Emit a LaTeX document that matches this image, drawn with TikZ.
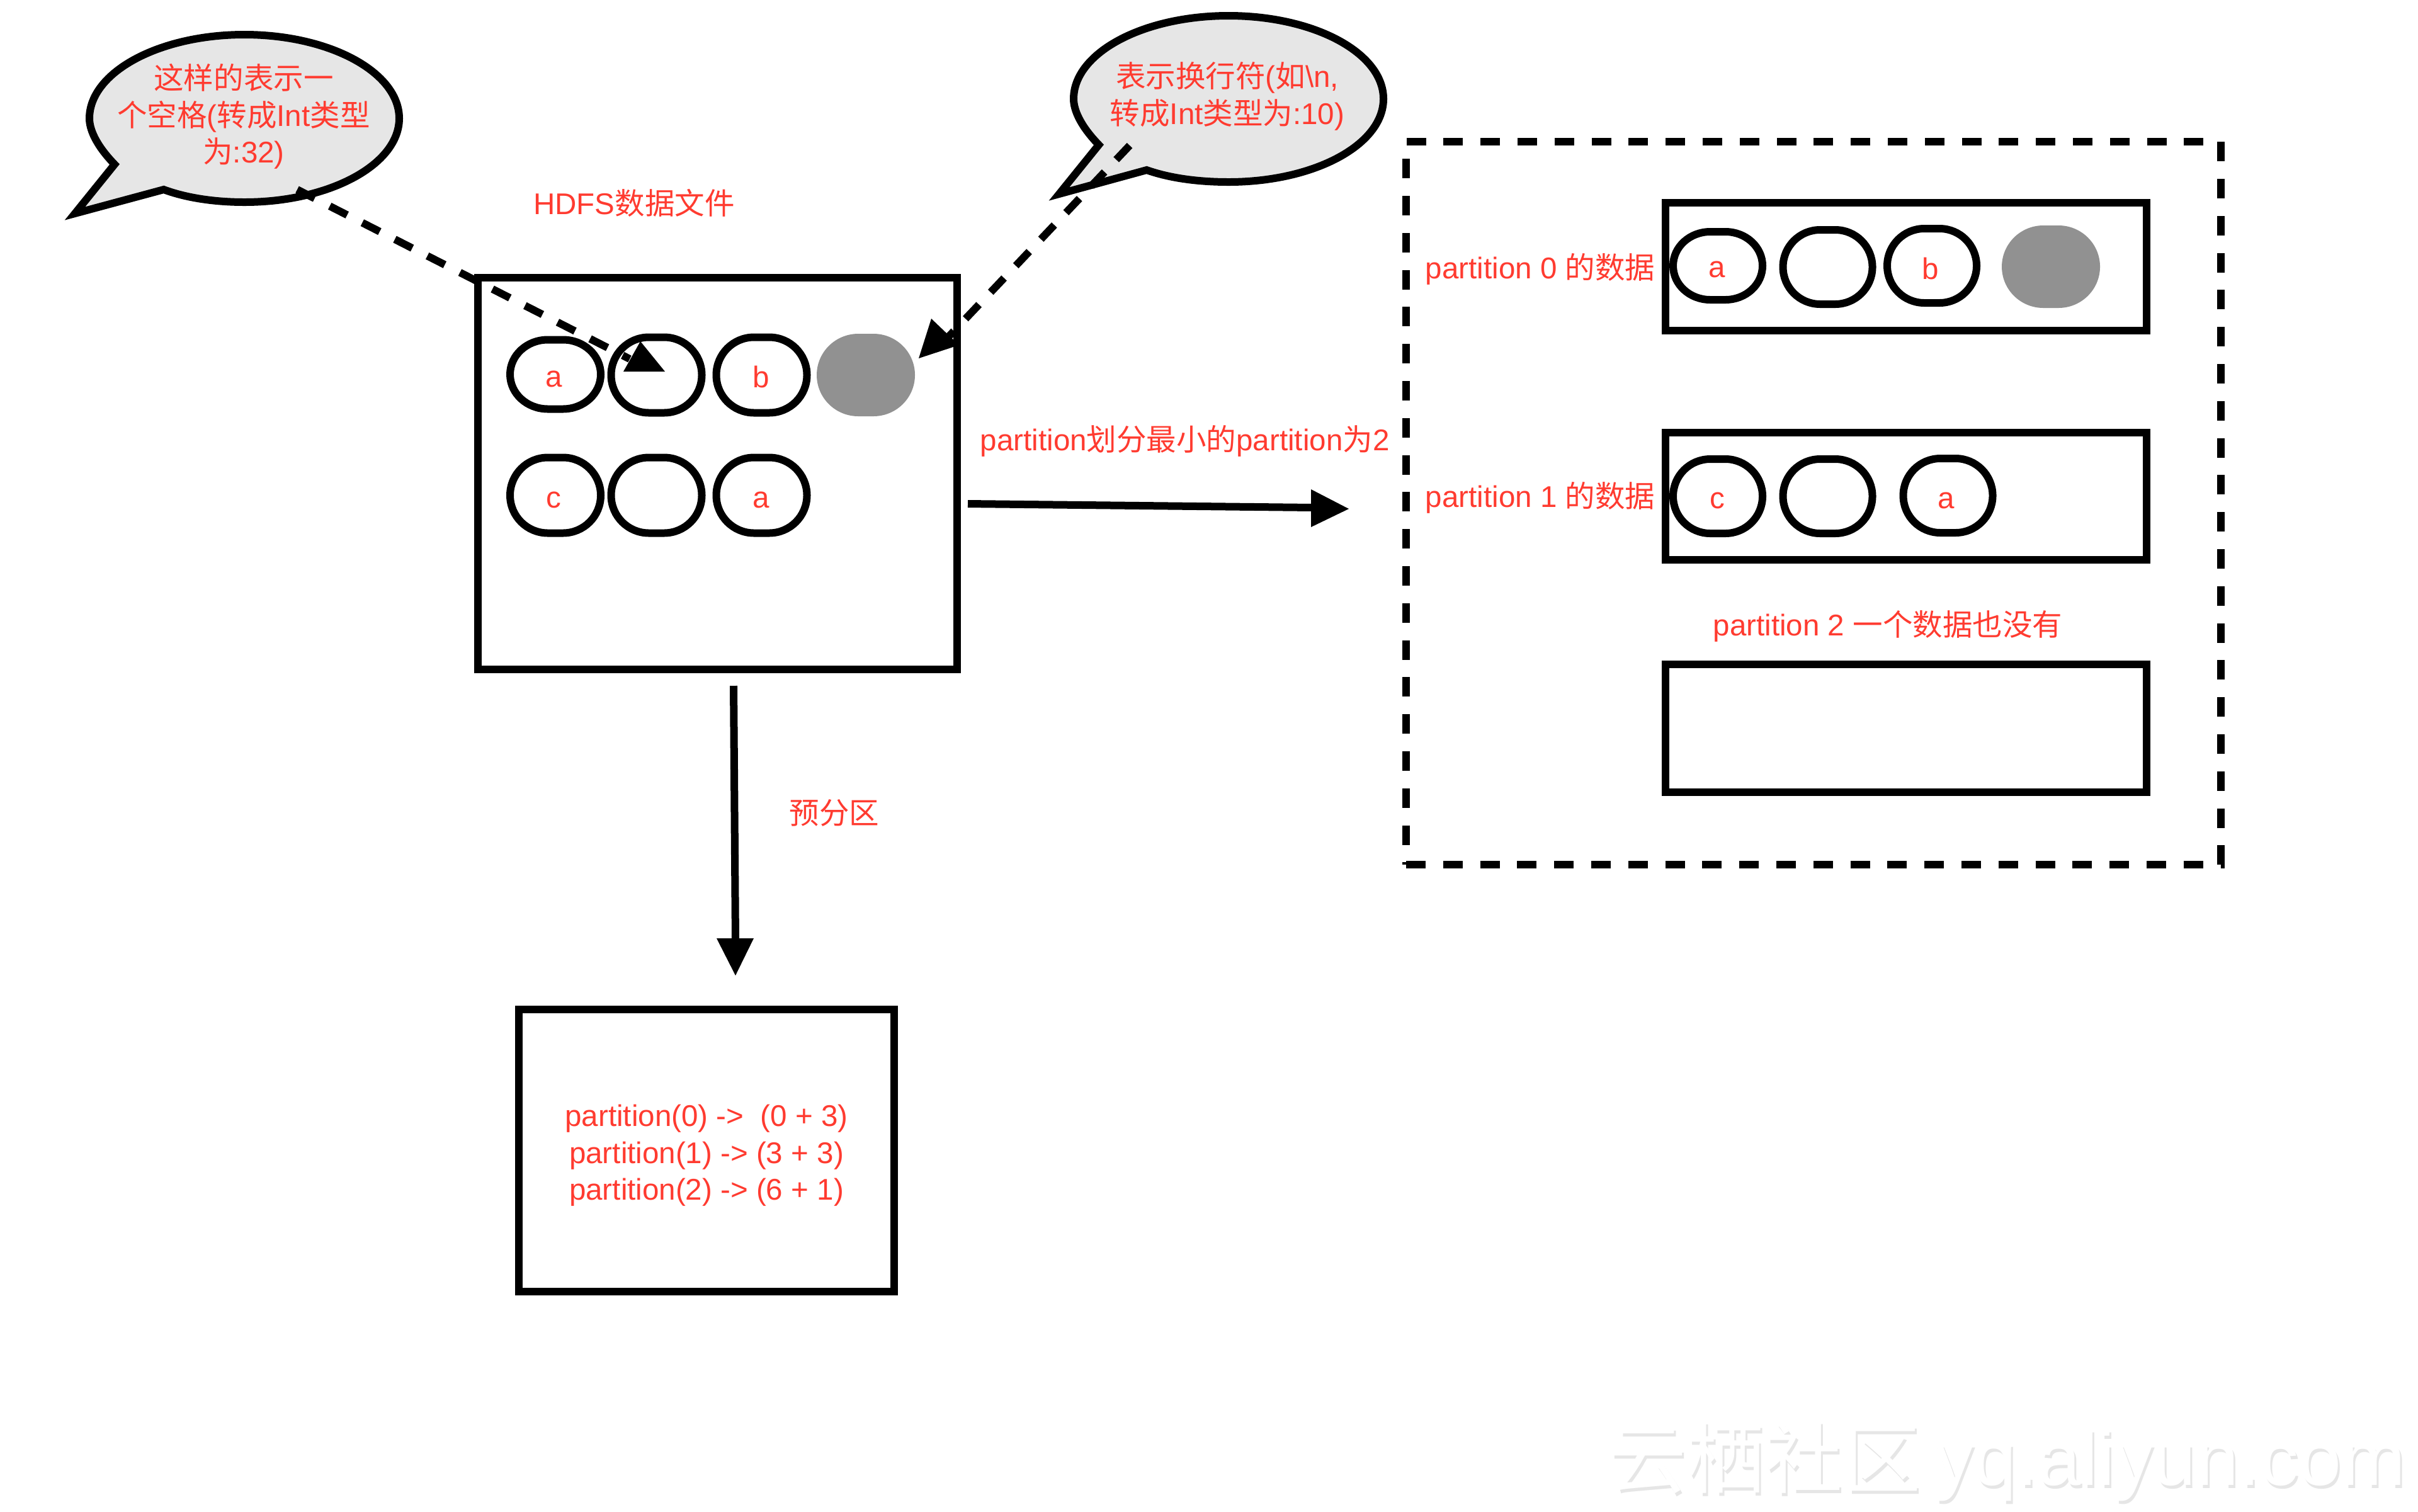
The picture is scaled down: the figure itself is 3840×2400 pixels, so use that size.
\documentclass[tikz,border=0pt]{standalone}
\usepackage{fontspec}
\setmainfont{Liberation Sans}
\newfontfamily\cjk{Noto Sans CJK SC}
\usetikzlibrary{calc}
\definecolor{lab}{HTML}{FF3B30}
\definecolor{bub}{HTML}{E6E6E6}
\definecolor{dot}{HTML}{919191}
\definecolor{wm}{HTML}{E6E6E6}
\tikzset{
  x=0.25pt,y=-0.25pt,
  boxline/.style={draw=black,line width=3pt,fill=none,miter limit=10},
  dashbox/.style={draw=black,line width=3pt,dash pattern=on 7.75pt off 6.95pt},
  dashline/.style={draw=black,line width=3pt,dash pattern=on 7.75pt off 6.75pt},
  shaft/.style={draw=black,line width=3pt},
  headtri/.style={fill=black,draw=none},
  txt/.style={text=lab,font=\fontsize{11.88pt}{14.6pt}\selectfont,inner sep=0pt,align=center},
  bubline/.style={draw=black,line width=3pt,fill=bub,line join=miter,miter limit=10},
}
\newcommand{\pillshape}[5]{%
  \path[#1] (#2,#3) ++(-12,-#5)
    -- ++(24,0)
    .. controls +({0.5523*(#4-12)},0) and +(0,{-0.5523*#5}) .. ++({#4-12},#5)
    .. controls +(0,{0.5523*#5}) and +({0.5523*(#4-12)},0) .. ++({-(#4-12)},#5)
    -- ++(-24,0)
    .. controls +({-0.5523*(#4-12)},0) and +(0,{0.5523*#5}) .. ++({-(#4-12)},-#5)
    .. controls +(0,{-0.5523*#5}) and +({-0.5523*(#4-12)},0) .. ++({#4-12},-#5)
    -- cycle;}
\newcommand{\pill}[6]{%
  \pillshape{draw=black,line width=3pt,fill=white}{#2}{#3}{#4}{#5}%
  \coordinate (#1) at (#2,#3);}
\newcommand{\graypill}[5]{%
  \pillshape{fill=dot}{#2}{#3}{#4}{#5}%
  \coordinate (#1) at (#2,#3);}
\begin{document}
\begin{tikzpicture}
\useasboundingbox (0,0) rectangle (3840,2400);
\fill[white] (0,0) rectangle (3840,2400);

% watermark
\node[anchor=base west,inner sep=0pt,text=wm,font=\cjk\fontsize{31pt}{31pt}\selectfont] (wma) at (2557,2366) {云栖社区};
\node[anchor=base west,inner sep=0pt,text=wm,font=\fontsize{30.5pt}{30.5pt}\selectfont] (wmb) at (3076,2363) {yq.aliyun.com};
\node[anchor=base west,inner sep=0pt,text=white,font=\cjk\fontsize{31pt}{31pt}\selectfont] (wmc) at (2554,2361) {云栖社区};
\node[anchor=base west,inner sep=0pt,text=white,font=\fontsize{30.5pt}{30.5pt}\selectfont] (wmd) at (3073,2358) {yq.aliyun.com};

% main data box
\node[boxline,minimum width=190.25pt,minimum height=155.5pt,inner sep=0pt] (hdfs) at (1139.5,752) {};
\pill{r1a}{882}{594.5}{72}{55}{}
\node[txt] (r1at) at (880,602) {a};
\pill{r1s}{1042.5}{595.5}{72}{60}{}
\pill{r1b}{1209.5}{595.5}{72}{60}{}
\node[txt] (r1bt) at (1209,598) {b};
\graypill{r1n}{1375}{595.5}{78}{65.5}
\pill{r2c}{882}{786.5}{72}{60}{}
\node[txt] (r2ct) at (879,794) {c};
\pill{r2s}{1042.5}{786.5}{72}{60}{}
\pill{r2a}{1209.5}{786.5}{72}{60}{}
\node[txt] (r2at) at (1209,794) {a};
\node[txt] (hdfsl) at (1007,322) {HDFS{\cjk 数据文件}};

% right dashed box
\node[dashbox,minimum width=323.5pt,minimum height=287pt,inner sep=0pt] (outer) at (2880,799) {};
\node[boxline,minimum width=191pt,minimum height=50.75pt,inner sep=0pt] (p0) at (3027,423.5) {};
\node[boxline,minimum width=191pt,minimum height=50.5pt,inner sep=0pt] (p1) at (3027,788) {};
\node[boxline,minimum width=191pt,minimum height=50.75pt,inner sep=0pt] (p2) at (3027,1156.5) {};
\pill{q1a}{2728}{422}{71}{54}{}
\node[txt] (q1at) at (2727,428) {a};
\pill{q1s}{2902.5}{424}{71}{59}{}
\pill{q1b}{3068}{422}{71}{59}{}
\node[txt] (q1bt) at (3066,426) {b};
\graypill{q1n}{3257}{423.5}{78}{65.5}
\pill{q2c}{2728}{788}{71}{59}{}
\node[txt] (q2ct) at (2727,795) {c};
\pill{q2s}{2902.5}{788}{71}{59}{}
\pill{q2a}{3093.5}{787}{71}{59}{}
\node[txt] (q2at) at (3091,795) {a};
\node[txt,anchor=west] (l0) at (2263,427) {partition 0 {\cjk 的数据}};
\node[txt,anchor=west] (l1) at (2263,790) {partition 1 {\cjk 的数据}};
\node[txt] (l2) at (2998,994) {partition 2 {\cjk 一个数据也没有}};

% lower box
\node[boxline,minimum width=149pt,minimum height=112pt,inner sep=0pt] (pre) at (1122,1827) {};
\node[txt] (pret) at (1122,1835) {partition(0) ->\ \ (0 + 3)\\partition(1) -> (3 + 3)\\partition(2) -> (6 + 1)};
\node[txt] (prel) at (1325,1291) {\cjk 预分区};
\node[txt,anchor=west] (arrl) at (1556,700) {partition{\cjk 划分最小的}partition{\cjk 为}2};

% bubbles
\path[bubline] (182,261)
  .. controls (152,230) and (142,205) .. (142,188)
  .. controls (142,115) and (252,55) .. (388,55)
  .. controls (524,55) and (634,115) .. (634,188)
  .. controls (634,261) and (524,321) .. (388,321)
  .. controls (340,321) and (295,314) .. (260,301)
  -- (119,339) -- cycle;
\node[txt] (b1) at (387,185) {{\cjk 这样的表示一}\\{\cjk 个空格}({\cjk 转成}Int{\cjk 类型}\\{\cjk 为}:32)};
\path[bubline] (1745,230)
  .. controls (1715,199) and (1705,174) .. (1705,157)
  .. controls (1705,84) and (1815,25) .. (1951,25)
  .. controls (2087,25) and (2197,84) .. (2197,157)
  .. controls (2197,230) and (2087,289) .. (1951,289)
  .. controls (1903,289) and (1858,283) .. (1821,270)
  -- (1682,308) -- cycle;
\node[txt] (b2) at (1949,153) {{\cjk 表示换行符}({\cjk 如}\textbackslash n,\\{\cjk 转成}Int{\cjk 类型为}:10)};

% connectors
\coordinate (c1s) at (472,301);
\coordinate (c1e) at (1000,570);
\draw[dashline] (c1s) -- (c1e);
\fill[headtri] (1017,542) -- (1056,590) -- (990,590) -- cycle;
\coordinate (c2s) at (1794,231);
\coordinate (c2e) at (1507,534);
\draw[dashline] (c2s) -- (c2e);
\fill[headtri] (1459,569) -- (1479,506) -- (1523,548) -- cycle;
\coordinate (c3s) at (1537,800);
\coordinate (c3e) at (2085,806);
\draw[shaft] (c3s) -- (c3e);
\fill[headtri] (2082,777) -- (2142,808) -- (2082,837) -- cycle;
\coordinate (c4s) at (1165,1089);
\coordinate (c4e) at (1168,1495);
\draw[shaft] (c4s) -- (c4e);
\fill[headtri] (1138,1490) -- (1197,1490) -- (1168,1549) -- cycle;
\end{tikzpicture}
\end{document}
